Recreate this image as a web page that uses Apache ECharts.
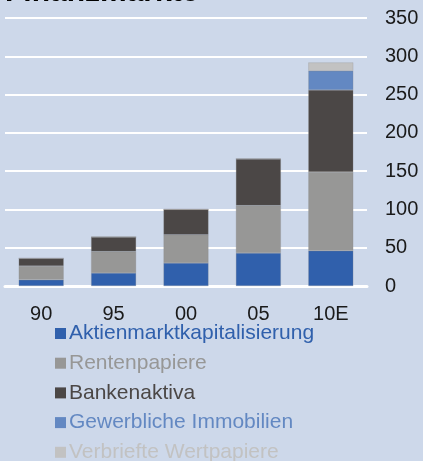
<!DOCTYPE html>
<html>
<head>
<meta charset="utf-8">
<script src="https://cdn.jsdelivr.net/npm/echarts@6/dist/echarts.min.js"></script>
<style>
  html, body { margin: 0; padding: 0; background: #cdd8ea; }
  #chart { width: 423px; height: 461px; }
</style>
</head>
<body>
<div id="chart"></div>
<script>
const years = ['90', '95', '00', '05', '10E']
const aktien = [8, 17, 30, 43, 46]
const renten = [18, 28, 37, 62, 103]
const banken = [10, 19, 33, 61, 107]
const immobilien = [0, 0, 0, 0, 25]
const verbriefte = [0, 0, 0, 0, 11]
const yTicks = [0, 50, 100, 150, 200, 250, 300, 350]

const names = ['Aktienmarktkapitalisierung', 'Rentenpapiere', 'Bankenaktiva', 'Gewerbliche Immobilien', 'Verbriefte Wertpapiere']
const colors = ['#3060ac', '#979796', '#4b4746', '#6388c2', '#c2c2c2']
const values = [aktien, renten, banken, immobilien, verbriefte]

const chart = echarts.init(document.getElementById('chart'))
const option = {
  backgroundColor: '#cdd8ea',
  textStyle: { fontFamily: 'Liberation Sans, Arial, sans-serif' },
  graphic: [
    {
      type: 'text',
      left: 5,
      top: -22,
      style: {
        text: 'Finanzmärkte',
        fill: '#000',
        font: 'bold 30px Liberation Sans, Arial, sans-serif',
      },
    },
  ],
  // one legend per row so the last row may run off the bottom edge
  legend: names.map((n, i) => ({
    left: 55,
    top: 323 + i * 29.7,
    icon: 'rect',
    itemWidth: 11,
    itemHeight: 11,
    padding: 0,
    selectedMode: false,
    itemStyle: { borderWidth: 0 },
    textStyle: { fontSize: 21, color: colors[i], padding: [0, 0, 0, -2] },
    data: [n],
  })),
  grid: { left: 5, right: 56, top: 18, bottom: 175 },
  xAxis: {
    type: 'category',
    data: years,
    axisLine: { show: true, lineStyle: { color: '#fff', width: 3 } },
    axisTick: { show: false },
    axisLabel: { color: '#1a1a1a', fontSize: 20, margin: 18 },
  },
  yAxis: {
    type: 'value',
    position: 'right',
    min: 0,
    max: 350,
    interval: 50,
    axisLine: { show: false },
    axisTick: { show: false },
    axisLabel: {
      color: '#1a1a1a',
      fontSize: 20,
      margin: 18,
      formatter: v => (yTicks.includes(v) ? String(v) : ''),
    },
    splitLine: { lineStyle: { color: '#fff', width: 2 } },
  },
  series: names.map((n, i) => ({
    name: n,
    type: 'bar',
    stack: 'total',
    barWidth: 45,
    itemStyle: { color: colors[i], borderColor: 'rgba(140,140,140,0.5)', borderWidth: 0.5 },
    data: values[i],
  })),
}
chart.setOption(option)
</script>
</body>
</html>
